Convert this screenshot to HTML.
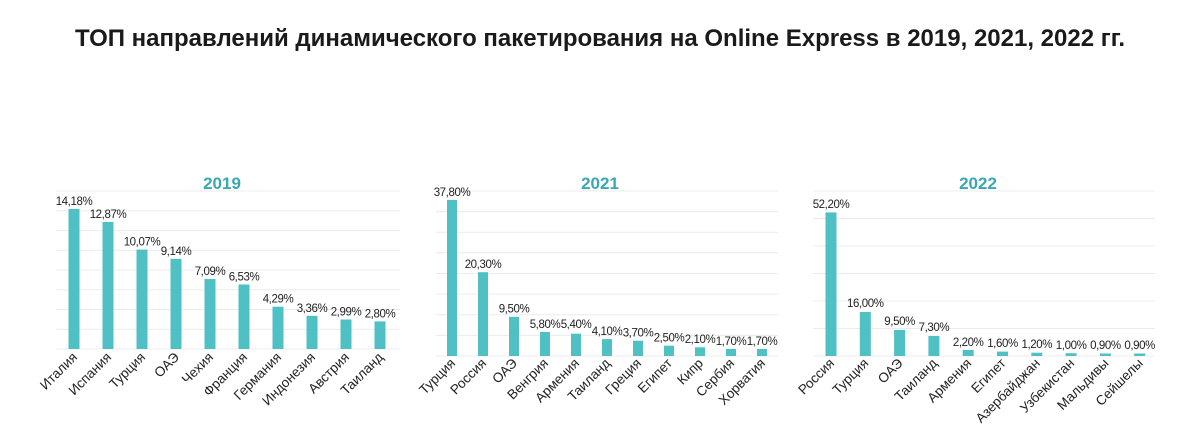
<!DOCTYPE html>
<html><head><meta charset="utf-8"><style>
html,body{margin:0;padding:0;background:#fff;}
svg{display:block;font-family:"Liberation Sans",Arial,sans-serif;}
.g{stroke:#ececec;stroke-width:1;}
.b{fill:#4fc0c4;}
.v{font-size:11.5px;fill:#222;text-anchor:middle;letter-spacing:-0.4px;}
.c{font-size:13.5px;fill:#222;text-anchor:end;}
.y{font-size:17px;font-weight:bold;fill:#3aa8b2;text-anchor:middle;}
</style></head><body>
<svg width="1200" height="444" viewBox="0 0 1200 444">
<text x="600" y="46" text-anchor="middle" font-size="24" font-weight="bold" fill="#1a1a1a" textLength="1050" lengthAdjust="spacingAndGlyphs">ТОП направлений динамического пакетирования на Online Express в 2019, 2021, 2022 гг.</text>

<!-- 2019 -->
<text class="y" x="222" y="189">2019</text>
<g class="g">
<line x1="56" x2="400" y1="349" y2="349"/><line x1="56" x2="400" y1="329.3" y2="329.3"/><line x1="56" x2="400" y1="309.5" y2="309.5"/><line x1="56" x2="400" y1="289.8" y2="289.8"/><line x1="56" x2="400" y1="270" y2="270"/><line x1="56" x2="400" y1="250.3" y2="250.3"/><line x1="56" x2="400" y1="230.6" y2="230.6"/><line x1="56" x2="400" y1="210.8" y2="210.8"/><line x1="56" x2="400" y1="191" y2="191"/>
</g>
<rect class="b" x="68.5" y="209" width="11" height="140"/>
<rect class="b" x="102.5" y="222" width="11" height="127"/>
<rect class="b" x="136.5" y="249.6" width="11" height="99.4"/>
<rect class="b" x="170.5" y="258.8" width="11" height="90.2"/>
<rect class="b" x="204.5" y="279" width="11" height="70"/>
<rect class="b" x="238.5" y="284.5" width="11" height="64.5"/>
<rect class="b" x="272.5" y="306.7" width="11" height="42.3"/>
<rect class="b" x="306.5" y="315.8" width="11" height="33.2"/>
<rect class="b" x="340.5" y="319.5" width="11" height="29.5"/>
<rect class="b" x="374.5" y="321.4" width="11" height="27.6"/>
<text class="v" x="74" y="205">14,18%</text>
<text class="v" x="108" y="218">12,87%</text>
<text class="v" x="142" y="245.6">10,07%</text>
<text class="v" x="176" y="254.8">9,14%</text>
<text class="v" x="210" y="275">7,09%</text>
<text class="v" x="244" y="280.5">6,53%</text>
<text class="v" x="278" y="302.7">4,29%</text>
<text class="v" x="312" y="311.8">3,36%</text>
<text class="v" x="346" y="315.5">2,99%</text>
<text class="v" x="380" y="317.4">2,80%</text>
<text class="c" transform="translate(78,358) rotate(-45)">Италия</text>
<text class="c" transform="translate(112,358) rotate(-45)">Испания</text>
<text class="c" transform="translate(146,358) rotate(-45)">Турция</text>
<text class="c" transform="translate(180,358) rotate(-45)">ОАЭ</text>
<text class="c" transform="translate(214,358) rotate(-45)">Чехия</text>
<text class="c" transform="translate(248,358) rotate(-45)">Франция</text>
<text class="c" transform="translate(282,358) rotate(-45)">Германия</text>
<text class="c" transform="translate(316,358) rotate(-45)">Индонезия</text>
<text class="c" transform="translate(350,358) rotate(-45)">Австрия</text>
<text class="c" transform="translate(384,358) rotate(-45)">Таиланд</text>

<!-- 2021 -->
<text class="y" x="600" y="189">2021</text>
<g class="g">
<line x1="436" x2="778" y1="356" y2="356"/><line x1="436" x2="778" y1="335.4" y2="335.4"/><line x1="436" x2="778" y1="314.7" y2="314.7"/><line x1="436" x2="778" y1="294.1" y2="294.1"/><line x1="436" x2="778" y1="273.5" y2="273.5"/><line x1="436" x2="778" y1="252.8" y2="252.8"/><line x1="436" x2="778" y1="232.2" y2="232.2"/><line x1="436" x2="778" y1="211.6" y2="211.6"/><line x1="436" x2="778" y1="191" y2="191"/>
</g>
<rect class="b" x="447" y="199.9" width="10" height="156.1"/>
<rect class="b" x="478" y="272.2" width="10" height="83.8"/>
<rect class="b" x="509" y="316.8" width="10" height="39.2"/>
<rect class="b" x="540" y="332" width="10" height="24"/>
<rect class="b" x="571" y="333.7" width="10" height="22.3"/>
<rect class="b" x="602" y="339.1" width="10" height="16.9"/>
<rect class="b" x="633" y="340.7" width="10" height="15.3"/>
<rect class="b" x="664" y="345.7" width="10" height="10.3"/>
<rect class="b" x="695" y="347.3" width="10" height="8.7"/>
<rect class="b" x="726" y="349" width="10" height="7"/>
<rect class="b" x="757" y="349" width="10" height="7"/>
<g style="font-size:11px">
<text class="v" x="452" y="196">37,80%</text>
<text class="v" x="483" y="268">20,30%</text>
<text class="v" x="514" y="312.5">9,50%</text>
<text class="v" x="545" y="328">5,80%</text>
<text class="v" x="576" y="328">5,40%</text>
<text class="v" x="607" y="335">4,10%</text>
<text class="v" x="638" y="336.5">3,70%</text>
<text class="v" x="669" y="341.5">2,50%</text>
<text class="v" x="700" y="343">2,10%</text>
<text class="v" x="731" y="345">1,70%</text>
<text class="v" x="762" y="345">1,70%</text>
</g>
<text class="c" transform="translate(456,364) rotate(-45)">Турция</text>
<text class="c" transform="translate(487,364) rotate(-45)">Россия</text>
<text class="c" transform="translate(518,364) rotate(-45)">ОАЭ</text>
<text class="c" transform="translate(549,364) rotate(-45)">Венгрия</text>
<text class="c" transform="translate(580,364) rotate(-45)">Армения</text>
<text class="c" transform="translate(611,364) rotate(-45)">Таиланд</text>
<text class="c" transform="translate(642,364) rotate(-45)">Греция</text>
<text class="c" transform="translate(673,364) rotate(-45)">Египет</text>
<text class="c" transform="translate(704,364) rotate(-45)">Кипр</text>
<text class="c" transform="translate(735,364) rotate(-45)">Сербия</text>
<text class="c" transform="translate(766,364) rotate(-45)">Хорватия</text>

<!-- 2022 -->
<text class="y" x="978" y="189">2022</text>
<g class="g">
<line x1="813" x2="1155" y1="356" y2="356"/><line x1="813" x2="1155" y1="328.5" y2="328.5"/><line x1="813" x2="1155" y1="301" y2="301"/><line x1="813" x2="1155" y1="273.5" y2="273.5"/><line x1="813" x2="1155" y1="246" y2="246"/><line x1="813" x2="1155" y1="218.5" y2="218.5"/><line x1="813" x2="1155" y1="191" y2="191"/>
</g>
<rect class="b" x="825.5" y="212.4" width="11" height="143.6"/>
<rect class="b" x="859.8" y="312" width="11" height="44"/>
<rect class="b" x="894.1" y="329.9" width="11" height="26.1"/>
<rect class="b" x="928.4" y="335.9" width="11" height="20.1"/>
<rect class="b" x="962.7" y="350" width="11" height="6"/>
<rect class="b" x="997" y="351.6" width="11" height="4.4"/>
<rect class="b" x="1031.3" y="352.7" width="11" height="3.3"/>
<rect class="b" x="1065.6" y="353.2" width="11" height="2.8"/>
<rect class="b" x="1099.9" y="353.5" width="11" height="2.5"/>
<rect class="b" x="1134.2" y="353.5" width="11" height="2.5"/>
<text class="v" x="831" y="208">52,20%</text>
<text class="v" x="865.3" y="307">16,00%</text>
<text class="v" x="899.6" y="325">9,50%</text>
<text class="v" x="933.9" y="331">7,30%</text>
<text class="v" x="968.2" y="346">2,20%</text>
<text class="v" x="1002.5" y="347">1,60%</text>
<text class="v" x="1036.8" y="348">1,20%</text>
<text class="v" x="1071.1" y="349">1,00%</text>
<text class="v" x="1105.4" y="349">0,90%</text>
<text class="v" x="1139.7" y="349">0,90%</text>
<text class="c" transform="translate(835,364) rotate(-45)">Россия</text>
<text class="c" transform="translate(869.3,364) rotate(-45)">Турция</text>
<text class="c" transform="translate(903.6,364) rotate(-45)">ОАЭ</text>
<text class="c" transform="translate(937.9,364) rotate(-45)">Таиланд</text>
<text class="c" transform="translate(972.2,364) rotate(-45)">Армения</text>
<text class="c" transform="translate(1006.5,364) rotate(-45)">Египет</text>
<text class="c" transform="translate(1040.8,364) rotate(-45)">Азербайджан</text>
<text class="c" transform="translate(1075.1,364) rotate(-45)">Узбекистан</text>
<text class="c" transform="translate(1109.4,364) rotate(-45)">Мальдивы</text>
<text class="c" transform="translate(1143.7,364) rotate(-45)">Сейшелы</text>
</svg>
</body></html>
